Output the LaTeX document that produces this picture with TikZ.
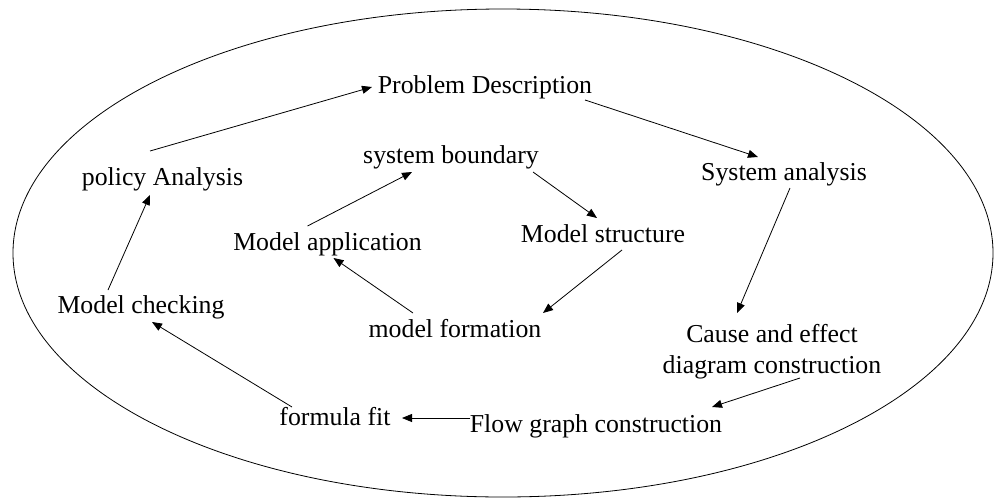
\documentclass[tikz,border=0pt]{standalone}
\usepackage{fontspec}
\setmainfont{Liberation Serif}
\usetikzlibrary{arrows.meta}
\begin{document}
\begin{tikzpicture}[x=1pt,y=-1pt,
  lbl/.style={inner sep=0pt, anchor=base, font=\fontsize{25.8}{31}\selectfont, align=center},
  arr/.style={draw=black, line width=0.8pt, -{Triangle[length=10pt,width=8pt]}},
  ring/.style={draw=black, line width=0.8pt}]
\useasboundingbox (0,0) rectangle (1002,501);
\draw[ring] (503,253) ellipse [x radius=490, y radius=244];
\node[lbl] (pd) at (485,93) {Problem Description};
\node[lbl] (sb) at (451,163) {system boundary};
\node[lbl] (pa) at (162.5,185) {policy Analysis};
\node[lbl] (sa) at (784,180) {System analysis};
\node[lbl] (ms) at (603,242) {Model structure};
\node[lbl] (mapp) at (327.5,250) {Model application};
\node[lbl] (mc) at (141,313) {Model checking};
\node[lbl] (mf) at (455,337) {model formation};
\node[lbl] (ce) at (772,373) {Cause and effect\\diagram construction};
\node[lbl] (ff) at (335,425) {formula fit};
\node[lbl] (fg) at (596,432) {Flow graph construction};
\draw[arr] ([shift={(-12.5,-34)}]pa.base) -- ([shift={(-113,-6)}]pd.base);
\draw[arr] ([shift={(100,7)}]pd.base) -- ([shift={(-26,-23)}]sa.base);
\draw[arr] ([shift={(6,8)}]sa.base) -- ([shift={(-35,-60)}]ce.base);
\draw[arr] ([shift={(28,5)}]ce.base) -- ([shift={(116,-25)}]fg.base);
\draw[arr] ([shift={(-126,-14)}]fg.base) -- ([shift={(67,-7)}]ff.base);
\draw[arr] ([shift={(-43,-18)}]ff.base) -- ([shift={(11,9)}]mc.base);
\draw[arr] ([shift={(-33,-23)}]mc.base) -- ([shift={(-12.5,10)}]pa.base);
\draw[arr] ([shift={(-20,-24)}]mapp.base) -- ([shift={(-39,9)}]sb.base);
\draw[arr] ([shift={(82,9)}]sb.base) -- ([shift={(-6,-24)}]ms.base);
\draw[arr] ([shift={(19,8)}]ms.base) -- ([shift={(88,-24)}]mf.base);
\draw[arr] ([shift={(-42,-24)}]mf.base) -- ([shift={(6,8)}]mapp.base);
\end{tikzpicture}
\end{document}
